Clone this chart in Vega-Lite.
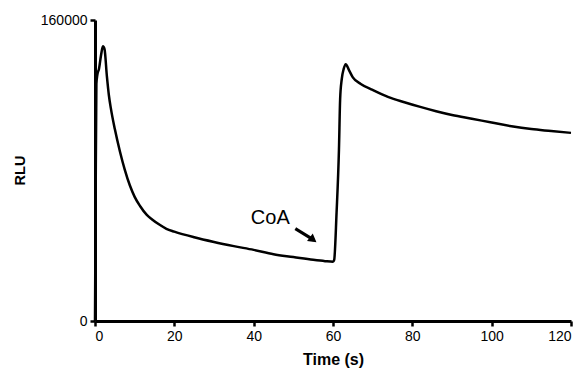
{
  "$schema": "https://vega.github.io/schema/vega-lite/v6.json",
  "width": 476,
  "height": 301,
  "autosize": {"type": "none"},
  "padding": {"left": 95, "top": 20, "right": 10, "bottom": 52},
  "background": "white",
  "config": {
    "view": {"stroke": null},
    "font": "Liberation Sans",
    "axis": {
      "grid": false,
      "domainColor": "black",
      "domainWidth": 3,
      "tickColor": "black",
      "tickWidth": 2.5,
      "tickSize": 5,
      "labelFont": "Liberation Sans",
      "labelFontSize": 14,
      "labelColor": "black",
      "titleFont": "Liberation Sans",
      "titleFontWeight": "bold",
      "titleColor": "black"
    }
  },
  "datasets": {
    "curve": [
      {"t": 0, "rlu": 0},
      {"t": 0.15, "rlu": 60000},
      {"t": 0.35, "rlu": 126000},
      {"t": 0.6, "rlu": 131000},
      {"t": 1.0, "rlu": 134000},
      {"t": 1.5, "rlu": 141000},
      {"t": 2.0, "rlu": 146000},
      {"t": 2.4, "rlu": 144500},
      {"t": 3.0, "rlu": 130000},
      {"t": 3.5, "rlu": 120000},
      {"t": 4.0, "rlu": 113000},
      {"t": 5.0, "rlu": 102000},
      {"t": 6.3, "rlu": 90000},
      {"t": 7.5, "rlu": 80500},
      {"t": 8.8, "rlu": 72000},
      {"t": 10, "rlu": 66000},
      {"t": 11.4, "rlu": 61000},
      {"t": 13, "rlu": 56500},
      {"t": 14.4, "rlu": 54000},
      {"t": 16.4, "rlu": 51000},
      {"t": 18, "rlu": 49000},
      {"t": 20, "rlu": 47500},
      {"t": 25, "rlu": 44500},
      {"t": 30, "rlu": 42000},
      {"t": 35, "rlu": 39800},
      {"t": 40, "rlu": 37800},
      {"t": 45, "rlu": 35500},
      {"t": 50, "rlu": 34000},
      {"t": 55, "rlu": 32500},
      {"t": 58, "rlu": 31800},
      {"t": 60, "rlu": 31500},
      {"t": 60.3, "rlu": 32500},
      {"t": 60.9, "rlu": 57600},
      {"t": 61.5, "rlu": 91000},
      {"t": 61.8, "rlu": 118000},
      {"t": 62.2, "rlu": 128500},
      {"t": 62.7, "rlu": 134000},
      {"t": 63.2, "rlu": 136500},
      {"t": 64, "rlu": 133500},
      {"t": 65, "rlu": 129500},
      {"t": 67, "rlu": 126000},
      {"t": 70, "rlu": 122800},
      {"t": 74, "rlu": 119000},
      {"t": 78, "rlu": 116300},
      {"t": 82, "rlu": 113800},
      {"t": 86, "rlu": 111500},
      {"t": 90, "rlu": 109500},
      {"t": 95, "rlu": 107500},
      {"t": 100, "rlu": 105500},
      {"t": 105, "rlu": 103500},
      {"t": 110, "rlu": 102000},
      {"t": 115, "rlu": 101000},
      {"t": 120, "rlu": 100000}
    ],
    "label": [{"t": 44.2, "rlu": 54500, "text": "CoA"}],
    "arrow": [{"t": 50.5, "rlu": 49100, "t2": 55.2, "rlu2": 43000}],
    "head": [{"t": 55.0, "rlu": 43200}]
  },
  "layer": [
    {
      "data": {"name": "curve"},
      "mark": {"type": "line", "color": "black", "strokeWidth": 2.5, "clip": false, "interpolate": "monotone"},
      "encoding": {
        "x": {
          "field": "t", "type": "quantitative",
          "scale": {"domain": [0, 120], "nice": false, "zero": false},
          "axis": {"values": [0, 20, 40, 60, 80, 100, 120], "title": "Time (s)", "titleFontSize": 16, "titlePadding": 8, "labelPadding": 3}
        },
        "y": {
          "field": "rlu", "type": "quantitative",
          "scale": {"domain": [0, 160000], "nice": false},
          "axis": {"values": [0, 160000], "format": "d", "title": "RLU", "titleFontSize": 14.5, "titleX": -68, "titleY": 150, "labelPadding": 3}
        }
      }
    },
    {
      "data": {"name": "label"},
      "mark": {"type": "text", "fontSize": 20, "color": "black", "font": "Liberation Sans", "align": "center", "baseline": "middle"},
      "encoding": {
        "x": {"field": "t", "type": "quantitative"},
        "y": {"field": "rlu", "type": "quantitative"},
        "text": {"field": "text"}
      }
    },
    {
      "data": {"name": "arrow"},
      "mark": {"type": "rule", "color": "black", "strokeWidth": 3},
      "encoding": {
        "x": {"field": "t", "type": "quantitative"},
        "y": {"field": "rlu", "type": "quantitative"},
        "x2": {"field": "t2"},
        "y2": {"field": "rlu2"}
      }
    },
    {
      "data": {"name": "head"},
      "mark": {"type": "point", "shape": "triangle-right", "filled": true, "color": "black", "opacity": 1, "size": 90, "angle": 37},
      "encoding": {
        "x": {"field": "t", "type": "quantitative"},
        "y": {"field": "rlu", "type": "quantitative"}
      }
    }
  ]
}
